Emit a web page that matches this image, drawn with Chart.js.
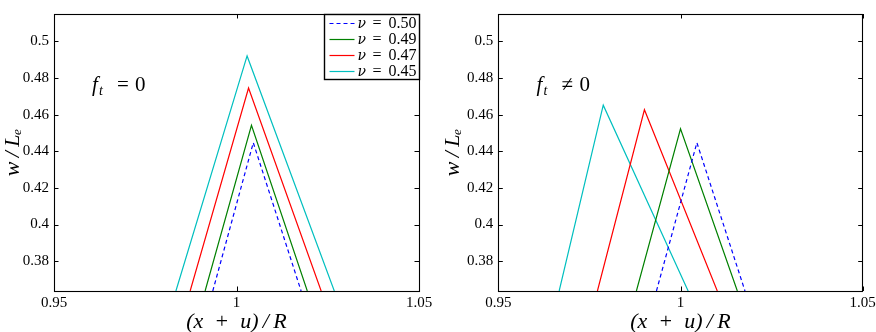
<!DOCTYPE html>
<html>
<head>
<meta charset="utf-8">
<script src="https://cdn.jsdelivr.net/npm/chart.js@4.4.1/dist/chart.umd.min.js"></script>
<style>
  html, body { margin: 0; padding: 0; background: #fff; }
  #wrap { position: relative; width: 876px; height: 332px; }
  canvas { position: absolute; top: 0; }
</style>
</head>
<body>
<div id="wrap">
  <canvas id="c1" width="438" height="332" style="left:0"></canvas>
  <canvas id="c2" width="438" height="332" style="left:438px"></canvas>
</div>
<script>
// ---- data ----
const nuLabels = ['0.50', '0.49', '0.47', '0.45'];
const seriesColors = ['#0000ff', '#008000', '#ff0000', '#00bfbf'];

const xTicks = [0.95, 1, 1.05];
const xTickLabels = ['0.95', '1', '1.05'];
const yTicks = [0.38, 0.40, 0.42, 0.44, 0.46, 0.48, 0.50];
const yTickLabels = ['0.38', '0.4', '0.42', '0.44', '0.46', '0.48', '0.5'];

// left panel (f_t = 0)
const leftX50 = [0.9935, 1.0046, 1.0177];
const leftY50 = [0.3637, 0.4447, 0.3637];
const leftX49 = [0.9914, 1.0041, 1.0194];
const leftY49 = [0.3637, 0.4542, 0.3637];
const leftX47 = [0.9873, 1.0033, 1.0232];
const leftY47 = [0.3637, 0.4746, 0.3637];
const leftX45 = [0.9834, 1.0029, 1.0268];
const leftY45 = [0.3637, 0.4921, 0.3637];

// right panel (f_t != 0)
const rightX50 = [0.9934, 1.0045, 1.0177];
const rightY50 = [0.3637, 0.4447, 0.3637];
const rightX49 = [0.9879, 1.0000, 1.0156];
const rightY49 = [0.3637, 0.4523, 0.3637];
const rightX47 = [0.9772, 0.9901, 1.0101];
const rightY47 = [0.3637, 0.4627, 0.3637];
const rightX45 = [0.9667, 0.9788, 1.0021];
const rightY45 = [0.3637, 0.4652, 0.3637];

const annotRel = ['=', '\u2260'];
const annotPos = [[0.9604, 0.4757], [0.9605, 0.4757]];

const SERIF = '"Liberation Serif", "DejaVu Serif", serif';

function pts(xs, ys) { return xs.map((x, i) => ({x: x, y: ys[i]})); }

function makeDatasets(sets) {
  return sets.map((s, i) => ({
    label: nuLabels[i],
    data: pts(s[0], s[1]),
    borderColor: seriesColors[i],
    borderWidth: 1.2,
    borderDash: i === 0 ? [4, 3] : [],
    pointRadius: 0,
    tension: 0,
    fill: false
  }));
}

const framePlugin = {
  id: 'frame',
  afterDatasetsDraw(chart) {
    const {ctx, chartArea: a, scales} = chart;
    ctx.save();
    ctx.strokeStyle = '#000';
    ctx.lineWidth = 1.1;
    ctx.strokeRect(Math.round(a.left) + 0.5, Math.round(a.top) + 0.5,
                   Math.round(a.right - a.left), Math.round(a.bottom - a.top));
    const tl = 4.5;
    ctx.lineWidth = 1;
    ctx.beginPath();
    scales.x.ticks.forEach(t => {
      const px = Math.round(scales.x.getPixelForValue(t.value)) + 0.5;
      ctx.moveTo(px, a.bottom); ctx.lineTo(px, a.bottom - tl);
      ctx.moveTo(px, a.top); ctx.lineTo(px, a.top + tl);
    });
    scales.y.ticks.forEach(t => {
      const py = Math.round(scales.y.getPixelForValue(t.value)) + 0.5;
      ctx.moveTo(a.left, py); ctx.lineTo(a.left + tl, py);
      ctx.moveTo(a.right, py); ctx.lineTo(a.right - tl, py);
    });
    ctx.stroke();
    ctx.restore();
  }
};

const annotPlugin = {
  id: 'annot',
  afterDatasetsDraw(chart, args, opts) {
    const {ctx, scales} = chart;
    const x0 = scales.x.getPixelForValue(opts.pos[0]);
    const y0 = scales.y.getPixelForValue(opts.pos[1]);
    ctx.save();
    ctx.fillStyle = '#000';
    ctx.textBaseline = 'middle';
    ctx.textAlign = 'left';
    ctx.font = 'italic 21px ' + SERIF;
    ctx.fillText('f', x0, y0);
    ctx.font = 'italic 14px ' + SERIF;
    ctx.fillText('t', x0 + 7, y0 + 5);
    ctx.font = '21px ' + SERIF;
    ctx.fillText(opts.text, x0 + 25, y0);
    ctx.fillText('0', x0 + 43, y0);
    ctx.restore();
  }
};

const legendPlugin = {
  id: 'boxLegend',
  afterDraw(chart, args, opts) {
    if (!opts.show) return;
    const {ctx, chartArea: a} = chart;
    const w = 95, h = 65;
    const bx = Math.round(a.right - w) + 0.5, by = Math.round(a.top) + 0.5;
    ctx.save();
    ctx.fillStyle = '#fff';
    ctx.fillRect(bx, by, w, h);
    ctx.strokeStyle = '#000';
    ctx.lineWidth = 1.4;
    ctx.strokeRect(bx, by, w, h);
    chart.data.datasets.forEach((ds, i) => {
      const cy = by + 9 + i * 16;
      ctx.strokeStyle = ds.borderColor;
      ctx.lineWidth = 1.2;
      ctx.setLineDash(ds.borderDash || []);
      ctx.beginPath();
      ctx.moveTo(bx + 5, cy); ctx.lineTo(bx + 30, cy);
      ctx.stroke();
      ctx.setLineDash([]);
      ctx.fillStyle = '#000';
      ctx.textBaseline = 'middle';
      ctx.textAlign = 'left';
      ctx.font = 'italic 14px "DejaVu Serif", serif';
      ctx.fillText('\u03bd', bx + 33, cy + 1);
      ctx.font = '16px ' + SERIF;
      ctx.fillText('=', bx + 48, cy);
      ctx.fillText(ds.label, bx + 64, cy);
    });
    ctx.restore();
  }
};

function makeChart(id, sets, yAxisWidth, rightPad, yTitlePad, idx, showLegend) {
  return new Chart(document.getElementById(id), {
    type: 'line',
    data: { datasets: makeDatasets(sets) },
    plugins: [framePlugin, annotPlugin, legendPlugin],
    options: {
      responsive: false,
      animation: false,
      layout: { padding: { top: 10, right: rightPad, bottom: 0, left: 0 } },
      plugins: {
        legend: { display: false },
        tooltip: { enabled: false },
        annot: { pos: annotPos[idx], text: annotRel[idx] },
        boxLegend: { show: showLegend }
      },
      scales: {
        x: {
          type: 'linear', min: 0.95, max: 1.05,
          afterBuildTicks: s => { s.ticks = xTicks.map(v => ({value: v})); },
          afterFit: s => { s.height = 41; s.paddingLeft = 0; s.paddingRight = 0; },
          ticks: {
            autoSkip: false, maxRotation: 0, padding: 3, color: '#000',
            font: { family: SERIF, size: 15 },
            callback: (v, i) => xTickLabels[i]
          },
          grid: { display: false, drawTicks: false },
          border: { display: false },
          title: {
            display: true, text: '(x\u2002+\u2002u)\u2009/\u2009R', color: '#000',
            font: { family: SERIF, size: 22, style: 'italic', lineHeight: 1 },
            padding: { top: 0, bottom: -1 }
          }
        },
        y: {
          type: 'linear', min: 0.3637, max: 0.515,
          afterBuildTicks: s => { s.ticks = yTicks.map(v => ({value: v})); },
          afterFit: s => { s.width = yAxisWidth; },
          ticks: {
            autoSkip: false, padding: 5, color: '#000',
            font: { family: SERIF, size: 15 },
            callback: (v, i) => yTickLabels[i]
          },
          grid: { display: false, drawTicks: false },
          border: { display: false },
          title: {
            display: true, text: 'w\u2009/\u2009L\u2091', color: '#000',
            font: { family: SERIF, size: 22, style: 'italic', lineHeight: 1 },
            padding: { top: yTitlePad, bottom: 0 }
          }
        }
      }
    }
  });
}

makeChart('c1', [[leftX50, leftY50], [leftX49, leftY49], [leftX47, leftY47], [leftX45, leftY45]],
          54, 19, 2, 0, true);
makeChart('c2', [[rightX50, rightY50], [rightX49, rightY49], [rightX47, rightY47], [rightX45, rightY45]],
          60.3, 13.3, 4, 1, false);
</script>
</body>
</html>
